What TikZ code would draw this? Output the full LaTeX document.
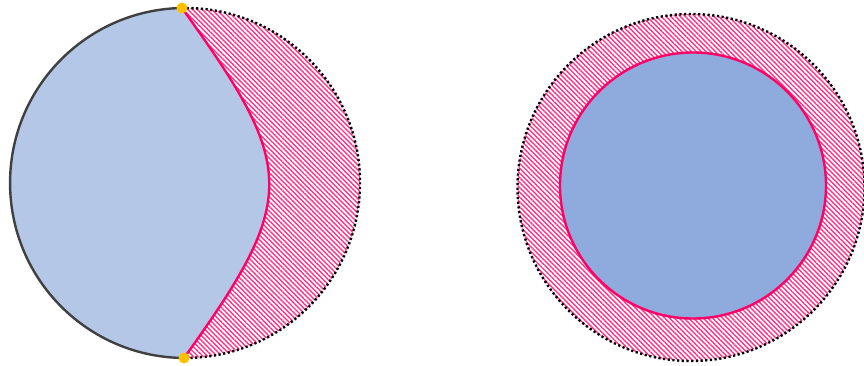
\documentclass[tikz,border=0pt]{standalone}
\usetikzlibrary{patterns.meta}
\definecolor{pinkline}{HTML}{FF0066}
\definecolor{hatchpink}{HTML}{FF3385}
\definecolor{lightblue}{HTML}{B4C7E7}
\definecolor{midblue}{HTML}{8FAADC}
\definecolor{darkgray}{HTML}{404040}
\definecolor{goldy}{HTML}{FFC000}
\tikzset{
  hatch/.style={pattern={Lines[angle=-45,distance=3.4pt,line width=1.4pt]},pattern color=hatchpink},
  dotborder/.style={draw=black,line width=2.4pt,dash pattern=on 2.2pt off 2.5pt},
  pinkedge/.style={draw=pinkline,line width=2.4pt},
  grayedge/.style={draw=darkgray,line width=2.4pt},
  endpoint/.style={circle,fill=goldy,inner sep=0pt,minimum size=11pt}
}
\begin{document}
\begin{tikzpicture}[x=1pt,y=1pt]
\useasboundingbox (0,0) rectangle (864,365);
% left figure
\coordinate (L) at (185,182);
\coordinate (T) at (182,357);
\coordinate (B) at (184,7);
\path[hatch] (T) arc[start angle=91,end angle=-90.3,radius=175]
  .. controls (299,167) and (297,197) .. (T) -- cycle;
\path[fill=lightblue] (T) arc[start angle=91,end angle=269.7,radius=175]
  .. controls (299,167) and (297,197) .. (T) -- cycle;
\draw[grayedge] (T) arc[start angle=91,end angle=269.7,radius=175];
\draw[dotborder] (T) arc[start angle=91,end angle=-90.3,radius=175];
\draw[pinkedge] (T) .. controls (297,197) and (299,167) .. (B);
\node[endpoint] (t) at (T) {};
\node[endpoint] (b) at (B) {};
% right figure
\coordinate (R) at (691,177.5);
\coordinate (I) at (693,179.5);
\path[hatch] (R) circle[radius=173.5];
\draw[dotborder] (R) circle[radius=173.5];
\filldraw[fill=midblue,pinkedge] (I) circle[radius=133];
\end{tikzpicture}
\end{document}
